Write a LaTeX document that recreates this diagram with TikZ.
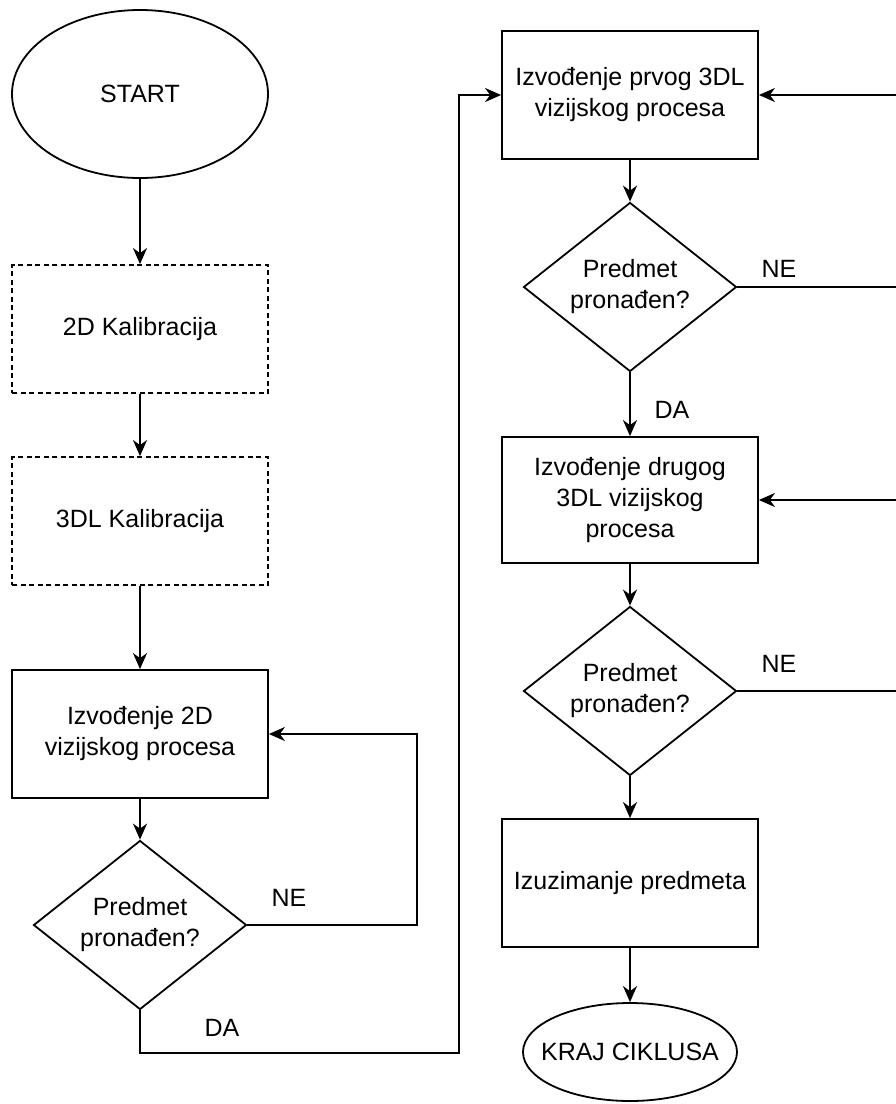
\documentclass[tikz,border=0pt]{standalone}
\usepackage{fontspec}
\setmainfont{Liberation Sans}
\usetikzlibrary{shapes.geometric,arrows.meta}
\tikzset{
  every node/.style={font=\fontsize{25}{31}\selectfont, align=center},
  proc/.style={draw, rectangle, line width=1.8pt, minimum width=256pt, minimum height=128pt, inner sep=0pt},
  calib/.style={proc, dashed, dash pattern=on 5pt off 3.5pt},
  term/.style={draw, ellipse, line width=1.8pt, inner sep=0pt},
  decide/.style={draw, diamond, line width=1.8pt, minimum width=213pt, minimum height=169pt, inner sep=0pt, aspect=1.26},
  conn/.style={line width=1.8pt, -{Stealth[length=16pt,width=14pt,inset=5pt]}},
  lbl/.style={inner sep=0pt}
}
\begin{document}
\begin{tikzpicture}[x=1pt,y=-1pt]
\useasboundingbox (0,0) rectangle (896,1104);
\clip (0,0) rectangle (896,1104);
% left column
\node[term, minimum width=256pt, minimum height=168pt] (start) at (140,94) {START};
\node[calib] (cal2d) at (140,329) {2D Kalibracija};
\node[calib] (cal3d) at (140,521) {3DL Kalibracija};
\node[proc] (proc2d) at (140,734) {Izvođenje 2D\\vizijskog procesa};
\node[decide] (dec1) at (140,925) {Predmet\\pronađen?};
% right column
\node[proc] (box1) at (630,95) {Izvođenje prvog 3DL\\vizijskog procesa};
\node[decide] (dec2) at (630,287) {Predmet\\pronađen?};
\node[proc, minimum height=126pt] (box2) at (630,500) {Izvođenje drugog\\3DL vizijskog\\procesa};
\node[decide] (dec3) at (630,691) {Predmet\\pronađen?};
\node[proc] (box3) at (630,883) {Izuzimanje predmeta};
\node[term, inner xsep=-14pt, minimum width=214pt, minimum height=98pt] (end) at (630,1052) {KRAJ CIKLUSA};
% helper coordinates
\coordinate (loop1) at (417,925);
\coordinate (da1a) at (140,1053);
\coordinate (da1b) at (459,1053);
\coordinate (r2) at (902,287);
\coordinate (r3) at (902,691);
% connectors
\draw[conn] (start) -- (cal2d);
\draw[conn] (cal2d) -- (cal3d);
\draw[conn] (cal3d) -- (proc2d);
\draw[conn] (proc2d) -- (dec1);
\draw[conn] (dec1.east) -- (loop1) |- (proc2d.east);
\draw[conn] (dec1.south) -- (da1a) -- (da1b) |- (box1.west);
\draw[conn] (box1) -- (dec2);
\draw[conn] (dec2.east) -- (r2) |- (box1.east);
\draw[conn] (dec2) -- (box2);
\draw[conn] (box2) -- (dec3);
\draw[conn] (dec3.east) -- (r3) |- (box2.east);
\draw[conn] (dec3) -- (box3);
\draw[conn] (box3) -- (end);
% labels
\node[lbl] (ne1) at (289,898) {NE};
\node[lbl] (da1) at (222,1028) {DA};
\node[lbl] (ne2) at (779,269) {NE};
\node[lbl] (da2) at (672,410) {DA};
\node[lbl] (ne3) at (779,664) {NE};
\end{tikzpicture}
\end{document}
